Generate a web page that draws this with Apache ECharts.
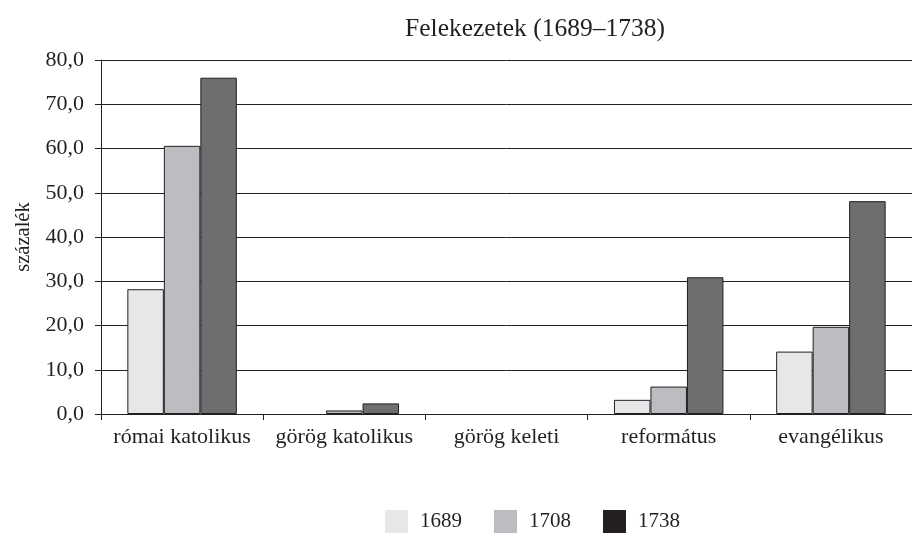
<!DOCTYPE html>
<html><head><meta charset="utf-8">
<script src="https://cdn.jsdelivr.net/npm/echarts@6/dist/echarts.min.js"></script>
<style>html,body{margin:0;padding:0;background:#fff}#c{width:912px;height:534px}</style>
</head><body><div id="c"></div>
<script>
const categories = ["római katolikus", "görög katolikus", "görög keleti", "református", "evangélikus"];
const years = ["1689", "1708", "1738"];
const v1689 = [28.2, 0, 0, 3.2, 14.1];
const v1708 = [60.6, 0.8, 0, 6.2, 19.7];
const v1738 = [76.0, 2.4, 0, 30.9, 48.1];
const yTicks = [0, 10, 20, 30, 40, 50, 60, 70, 80];

const barColors = ["#e6e7e8", "#bcbdc0", "#6d6e70"];
const legendColors = ["#e6e7e8", "#bcbdc0", "#231f20"];
const font = "Liberation Serif";
const ink = "#231f20";

const chart = echarts.init(document.getElementById('c'));
const vals = [v1689, v1708, v1738];
chart.setOption({
  animation: false,
  textStyle: { fontFamily: font, color: ink },
  title: {
    text: "Felekezetek (1689–1738)",
    left: 530, top: 11, textAlign: 'center',
    textStyle: { fontFamily: font, fontSize: 25.5, fontWeight: 'normal', color: ink }
  },
  legend: {
    left: 380, top: 505, itemWidth: 23, itemHeight: 23, itemGap: 32,
    icon: 'rect',
    textStyle: { fontFamily: font, fontSize: 21, color: ink, padding: [0, 0, 0, 7] },
    data: years.map((y, i) => ({ name: y, itemStyle: { color: legendColors[i], borderWidth: 0 } }))
  },
  grid: { left: 101, right: -4, top: 60, bottom: 120 },
  xAxis: {
    type: 'category', data: categories,
    axisLine: { lineStyle: { color: ink, width: 1 } },
    axisTick: { show: true, interval: 0, alignWithLabel: false, length: 6, lineStyle: { color: ink } },
    axisLabel: { interval: 0, hideOverlap: false, fontFamily: font, fontSize: 22, color: ink, margin: 12 }
  },
  yAxis: {
    type: 'value', min: yTicks[0], max: yTicks[yTicks.length - 1], interval: 10,
    name: "százalék", nameLocation: 'middle', nameGap: 67, nameRotate: 90,
    nameTextStyle: { fontFamily: font, fontSize: 20.5, color: ink },
    axisLine: { show: true, lineStyle: { color: ink, width: 1 } },
    axisTick: { show: true, length: 6, lineStyle: { color: ink } },
    splitLine: { lineStyle: { color: ink, width: 1 } },
    axisLabel: { fontFamily: font, fontSize: 22, color: ink, margin: 17,
      formatter: v => v.toFixed(1).replace('.', ',') }
  },
  series: years.map((y, i) => ({
    name: y, type: 'bar', data: vals[i].map(v => v === 0 ? null : v),
    barGap: '0%', barCategoryGap: '32.5%',
    itemStyle: { color: barColors[i], borderColor: ink, borderWidth: 1 }
  }))
});
</script></body></html>
